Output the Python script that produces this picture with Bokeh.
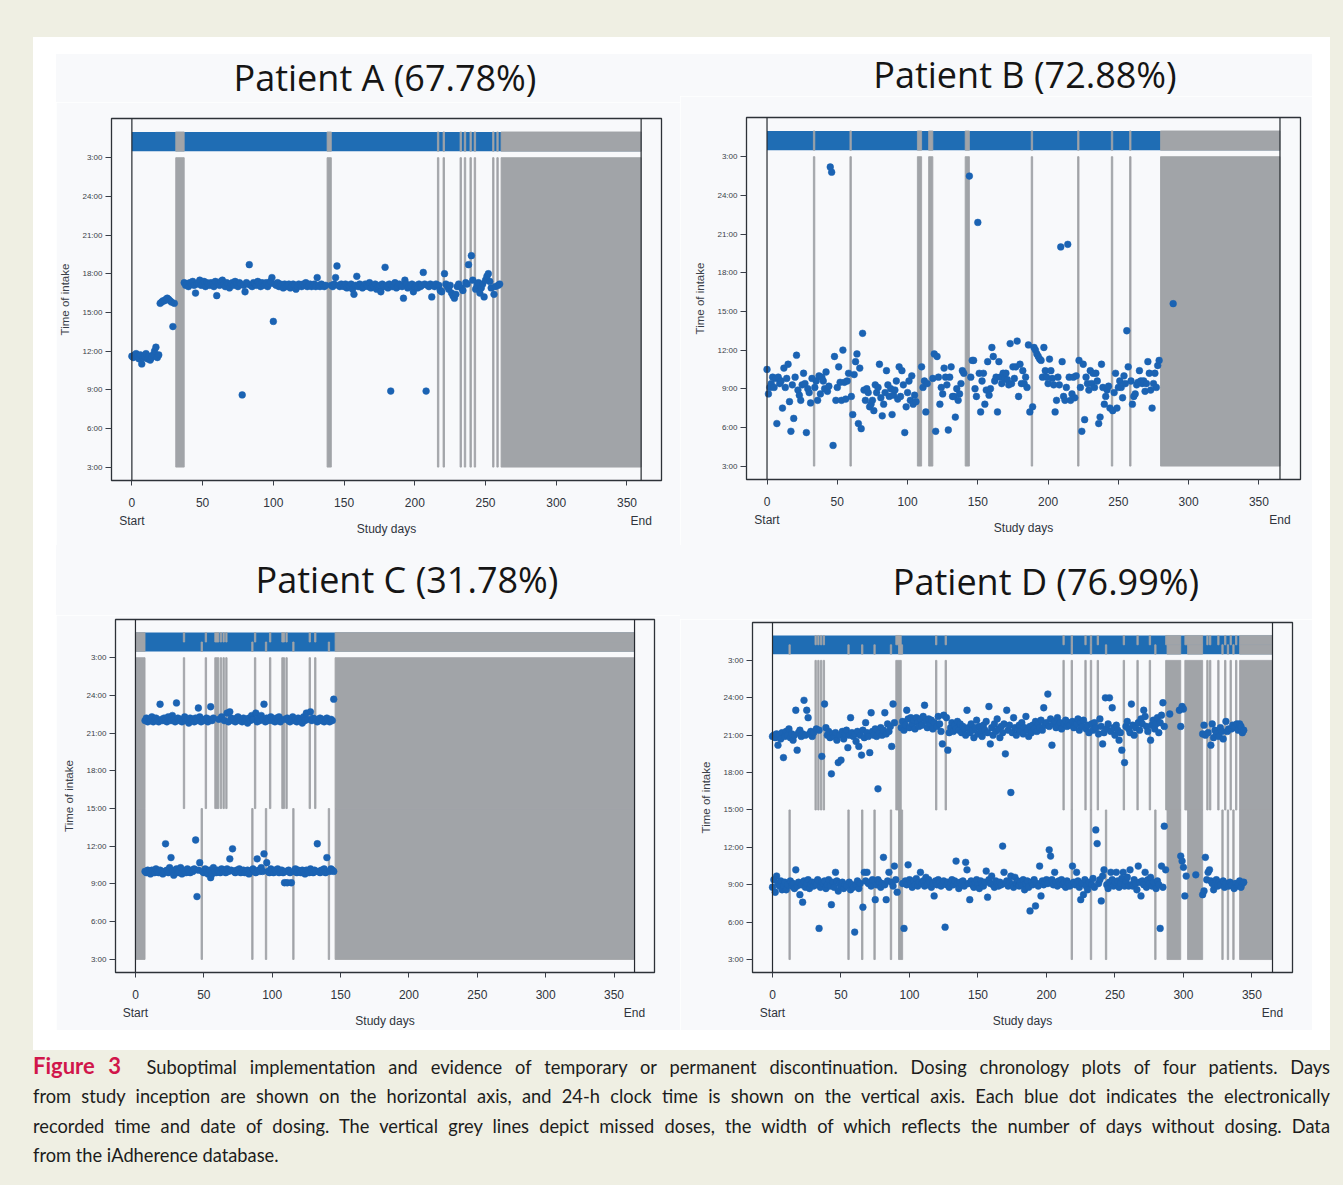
from bokeh.plotting import figure
from bokeh.models import FixedTicker, LinearAxis, Span, Range1d, Div, Spacer, ColumnDataSource
from bokeh.layouts import row, column
from bokeh.embed import file_html
from bokeh.resources import INLINE

N = None

# ---------------- data ----------------
titles = ["Patient A (67.78%)", "Patient B (72.88%)", "Patient C (31.78%)", "Patient D (76.99%)"]
end_days = [360, 365, 365, 365]
x_ticks = [0, 50, 100, 150, 200, 250, 300, 350]
y_ticks = [3, 6, 9, 12, 15, 18, 21, 24, 27]
y_tick_labels = ["3:00", "6:00", "9:00", "12:00", "15:00", "18:00", "21:00", "24:00", "3:00"]

# time of intake (hours) per study day, index = day, None = no dose
A_times = [
    11.6, 11.5, 11.7, 11.8, 11.6, 11.4, 11.7, 11.0, 11.5, 11.6,
    11.8, 11.4, 11.6, 11.3, 11.5, 11.7, 12.0, 12.3, 11.5, 11.7,
    15.7, 15.8, 15.9, 15.9, 16.0, 16.1, 16.0, 15.9, 15.8, 13.9,
    15.7, N, N, N, N, N, N, 17.3, 17.1, 17.2,
    17.0, 17.3, 17.2, 17.4, 17.1, 16.5, 17.2, 17.3, 17.5, 17.1,
    17.2, 17.4, 17.0, 17.3, 17.2, 17.1, 17.3, 17.2, 17.0, 17.4,
    16.3, 17.2, 17.1, 17.4, 17.5, 17.2, 17.0, 17.3, 17.2, 16.9,
    17.2, 17.3, 17.1, 17.4, 17.2, 17.0, 17.3, 17.2, 8.6, 17.1,
    16.6, 17.3, 17.2, 18.7, 17.1, 17.0, 17.3, 17.2, 17.1, 17.4,
    17.2, 17.0, 17.3, 17.1, 17.2, 17.3, 17.0, 17.2, 17.4, 17.7,
    14.3, 17.2, 17.1, 17.3, 17.0, 17.2, 17.1, 16.9, 17.2, 17.0,
    17.1, 17.2, 16.9, 17.0, 17.2, 17.1, 16.8, 17.0, 17.2, 17.1,
    17.0, 17.2, 17.1, 17.3, 17.0, 17.1, 17.2, 17.0, 17.1, 17.2,
    17.0, 17.7, 17.1, 17.0, 17.2, 17.1, 17.0, 17.1, N, N,
    N, 17.1, 17.0, 17.2, 17.7, 18.6, 17.1, 17.0, 17.2, 17.1,
    17.0, 17.2, 16.9, 17.1, 17.0, 17.2, 16.8, 16.4, 17.1, 17.8,
    17.0, 17.2, 17.1, 16.9, 17.0, 17.2, 17.1, 17.0, 17.3, 16.9,
    17.1, 17.0, 17.2, 16.8, 17.0, 17.1, 16.6, 17.2, 17.0, 18.5,
    17.1, 16.9, 17.2, 8.9, 17.0, 17.1, 17.3, 16.9, 17.0, 17.2,
    17.1, 17.0, 16.1, 17.5, 17.2, 16.9, 17.0, 17.1, 17.2, 16.6,
    17.0, 17.1, 16.9, 17.2, 17.0, 17.1, 18.1, 17.2, 8.9, 17.1,
    17.0, 17.2, 16.2, 17.1, 17.0, 17.2, N, 17.1, 16.7, 16.6,
    N, 18.0, 17.2, 17.0, 16.8, 17.1, 16.5, 16.3, 16.1, 16.4,
    17.0, 17.2, N, 16.9, 16.7, N, 17.3, 17.2, 18.7, N,
    19.4, 17.5, N, 16.8, 17.1, 17.3, 16.5, 16.9, 17.2, 16.2,
    17.5, 17.8, 18.0, 17.4, 16.9, N, 16.4, 17.0, N, 17.1,
    17.2,
]
A_gaps = [(31, 37), (138, 141), (216, 217), (220, 221), (232, 233), (235, 236),
          (239, 240), (242, 243), (255, 256), (258, 259), (261, 360)]

B_times = [
    10.5, 8.6, 9.1, 9.4, 9.9, 9.1, 9.8, 6.3, 9.9, 9.4,
    9.6, 7.5, 10.6, 9.1, 9.8, 10.9, 8.0, 5.7, 9.3, 6.7,
    9.9, 11.6, 8.9, 8.5, 8.1, 9.3, 10.2, 9.4, 5.6, 9.0,
    8.7, 7.9, 9.8, N, 9.1, 9.6, 8.1, 10.0, 8.6, 9.9,
    9.6, 9.0, 10.3, 8.8, 9.2, 26.2, 25.8, 4.6, 11.5, 8.1,
    9.1, 10.7, 9.5, 8.1, 12.0, 9.5, 8.2, 9.6, 10.2, N,
    8.4, 7.0, 10.1, 11.1, 11.7, 6.3, 10.6, 5.9, 13.3, 8.9,
    8.1, 9.0, 8.7, 7.6, 7.8, 8.1, 7.3, 9.3, 8.7, 9.1,
    10.9, 8.3, 6.9, 7.8, 8.7, 10.4, 9.3, 8.4, 9.0, 7.0,
    8.5, 8.9, 9.6, 8.2, 10.7, 8.4, 10.4, 9.3, 5.6, 7.6,
    8.7, 9.6, 8.1, 10.0, 7.8, 8.5, 8.0, N, N, N,
    10.7, 9.1, 9.6, 7.2, 9.4, N, N, N, 9.8, 11.7,
    5.7, 11.5, 9.9, 7.8, 9.1, 8.6, 10.6, 9.9, 9.3, 5.8,
    9.9, 10.7, 8.4, 8.4, 6.8, 9.0, 8.1, 8.6, 9.4, 10.4,
    10.2, N, N, N, 25.5, 9.9, 11.2, 11.2, 9.0, 8.4,
    21.9, 10.2, 7.2, 9.6, 10.2, 7.8, 8.9, 11.1, 8.5, 9.0,
    12.2, 11.5, 9.6, 9.9, 7.2, 11.1, 9.9, 9.4, 10.2, 9.8,
    10.2, 9.7, 9.3, 12.5, 9.4, 10.7, 9.8, 10.7, 12.7, 8.4,
    10.9, 9.4, 10.4, 9.4, 9.9, 9.1, 12.4, 7.2, N, 7.6,
    12.2, 12.0, 11.7, 11.5, 11.3, 11.2, 9.9, 12.2, 10.4, 9.9,
    9.4, 11.3, 10.4, 9.8, 9.3, 7.2, 8.1, 9.9, 9.3, 20.0,
    11.1, 8.4, 8.1, 9.1, 20.2, 9.9, 8.1, 8.6, 9.9, 8.3,
    10.0, N, 11.2, 9.1, 5.7, 10.9, 6.6, 9.9, 9.4, 8.9,
    10.4, 9.4, 10.2, 9.1, 10.2, 9.6, 6.3, 6.8, 10.9, 9.1,
    7.8, 8.4, 8.9, 9.2, 7.5, N, 7.3, 8.7, 10.2, 7.5,
    9.1, 9.6, 9.1, 8.3, 10.0, 9.4, 13.5, 10.7, N, 9.6,
    7.8, 8.4, 8.6, 9.3, 9.5, 10.4, 9.6, 9.4, 9.6, 8.8,
    9.4, 11.1, 10.2, 8.9, 7.5, 9.4, 10.2, 9.1, 10.8, 11.2,
]
B_extra_days = [289]
B_extra_times = [15.6]
B_gaps = [(33, 34), (59, 60), (107, 110), (115, 118), (141, 144), (188, 189),
          (221, 222), (245, 246), (258, 259), (280, 365)]

C_evening = [
    N, N, N, N, N, N, N, 22.0, 22.2, 21.9,
    22.1, 22.0, 22.3, 21.9, 22.1, 22.2, 22.0, 21.9, 23.3, 22.1,
    22.0, 22.2, 22.0, 21.9, 22.3, 22.1, 22.0, 22.4, 22.1, 21.9,
    23.4, 22.2, 22.0, 22.1, 21.9, N, 22.3, 22.0, 22.1, 21.8,
    22.2, 22.0, 22.1, 21.9, 22.2, 22.0, 23.0, 22.3, 21.9, 22.1,
    22.0, N, 22.2, 21.9, 22.1, 23.1, 22.0, 22.2, N, N,
    N, 22.1, N, 22.3, N, 22.0, N, 22.6, 21.9, 22.7,
    22.2, 22.0, 22.1, 21.9, 22.2, 22.3, 22.0, 22.1, 21.9, 22.2,
    22.0, 22.1, 21.8, 22.2, 22.0, 22.4, 22.1, N, 22.6, 21.9,
    22.2, 22.0, 22.4, 22.1, 23.3, 21.9, 22.2, 22.0, N, 22.3,
    22.0, 22.1, 21.9, 22.2, 22.0, 22.3, 21.9, N, N, 22.1,
    N, 22.2, 22.0, 21.9, 22.1, 22.3, 22.0, 22.1, 21.9, 22.2,
    22.0, 22.1, 21.8, 22.3, 22.0, 22.6, 22.1, N, 22.7, 22.0,
    22.2, N, 22.1, 21.9, 22.0, 22.2, 22.0, 22.1, 21.9, 22.0,
    22.2, 22.0, 21.9, 22.1, 22.0, 23.7,
]
C_morning = [
    N, N, N, N, N, N, N, 10.0, 9.9, 10.1,
    10.0, 9.8, 10.1, 10.0, 9.9, 10.2, 10.0, 9.9, 10.1, 10.0,
    9.8, 10.0, 12.2, 10.1, 9.9, 10.3, 11.1, 10.0, 9.7, 10.1,
    10.2, 9.9, 10.0, 10.3, 9.8, 10.1, 10.0, 9.9, 10.2, 10.0,
    9.9, 10.1, 10.0, 10.2, 12.5, 8.0, 10.1, 10.7, N, 10.0,
    9.9, 10.2, 10.0, 9.8, 10.1, 9.5, 9.8, 10.3, 10.0, 9.9,
    10.1, 10.0, 9.9, 10.2, 10.0, 10.1, 9.9, 10.2, 10.0, 11.0,
    10.1, 11.8, 10.0, 9.9, 10.1, 10.0, 10.2, 9.9, 10.0, 10.1,
    9.9, 10.0, 10.1, 9.8, 10.0, N, 10.2, 10.0, 9.9, 11.0,
    10.1, 10.0, 10.3, 10.0, 11.4, N, 10.7, 10.0, 9.9, 10.2,
    10.0, 9.9, 10.1, 10.0, 10.2, 9.9, 10.0, 10.1, 9.9, 9.1,
    10.0, 9.1, 10.1, 9.9, 9.1, N, 10.0, 10.2, 9.9, 10.1,
    10.0, 9.9, 10.1, 10.0, 9.8, 10.1, 10.0, 9.9, 10.2, 10.0,
    9.9, 10.1, 10.0, 12.2, 10.0, 9.9, 10.1, 10.0, 10.2, 9.9,
    11.1, N, 10.0, 10.2, 10.1, 10.0,
]
C_evening_gaps = [(0, 7), (35, 36), (51, 52), (58, 61), (62, 63), (64, 65), (66, 67),
                  (87, 88), (98, 99), (107, 109), (110, 111), (127, 128), (131, 132), (146, 365)]
C_morning_gaps = [(0, 7), (48, 49), (85, 86), (95, 96), (115, 116), (141, 142), (146, 365)]

D_evening = [
    20.9, 21.0, 20.8, 21.1, 20.2, 21.0, 20.7, 21.2, 19.2, 20.9,
    21.3, 21.0, 21.5, 20.8, 21.1, 20.6, 21.0, 23.0, 19.8, 21.2,
    21.4, 20.9, 21.1, 23.8, 21.0, 23.0, 22.4, 21.1, 21.3, 20.9,
    21.2, N, 21.5, N, 21.4, N, 19.3, N, 23.5, 21.6,
    21.0, 21.3, 20.8, 17.9, 21.1, 20.9, 21.2, 20.6, 18.8, 21.0,
    19.0, 21.3, 20.7, 21.1, 21.4, 20.0, 21.0, 22.4, 21.2, 20.9,
    21.1, 20.5, 21.3, 20.1, 21.0, 19.4, 21.4, 20.8, 22.0, 21.2,
    20.9, 19.6, 22.8, 21.3, 21.0, 21.5, 20.9, 16.7, 21.2, 21.6,
    21.0, 21.4, 22.8, 21.1, 21.9, 21.3, 21.7, 20.1, 23.5, 22.0,
    N, N, N, N, 21.6, 22.1, 21.4, 21.8, 23.0, 22.3,
    21.6, 22.4, 21.9, 22.2, 21.5, 22.4, 22.0, 21.7, 22.3, 21.8,
    22.5, 23.4, 22.1, 21.6, 22.3, 21.9, 22.2, 21.5, 22.0, N,
    21.7, 22.5, 21.9, 21.3, 20.3, 22.6, N, 22.4, 19.8, 21.2,
    21.6, 22.0, 21.3, 21.8, 21.5, 22.1, 21.4, 21.9, 21.2, 21.7,
    21.5, 21.0, 23.0, 21.6, 21.2, 21.9, 21.4, 20.8, 21.6, 22.2,
    21.1, 21.7, 21.3, 20.9, 21.8, 21.4, 22.1, 21.2, 23.3, 20.3,
    21.6, 21.0, 21.9, 21.3, 22.3, 21.5, 20.8, 21.7, 21.2, 21.9,
    19.5, 23.0, 21.4, 21.8, 16.4, 21.2, 22.4, 21.6, 21.0, 21.5,
    21.8, 21.3, 22.0, 21.1, 21.6, 22.5, 21.4, 20.9, 21.7, 21.2,
    21.8, 21.5, 22.1, 21.3, 21.9, 21.6, 22.2, 21.4, 23.2, 21.8,
    22.0, 24.3, 21.7, 22.3, 20.2, 21.9, 22.1, 21.6, 22.4, 21.8,
    22.0, 21.5, N, 21.9, 22.2, 21.7, 22.0, 21.8, N, 22.1,
    21.6, 22.0, 21.9, 22.3, 21.4, 22.0, 21.7, 22.2, N, 21.5,
    21.8, 21.2, N, 21.9, 21.4, 22.0, 21.6, N, 21.1, 22.3,
    21.7, 20.3, 21.2, 24.0, 21.5, 21.9, 24.0, 21.3, 23.2, 21.6,
    21.0, 21.8, 21.4, 20.6, 21.2, 19.8, N, 18.8, 21.7, 22.1,
    21.5, 21.2, 23.5, 21.8, 21.0, 21.6, N, 22.0, 21.4, 22.3,
    21.9, 23.0, 22.5, 21.7, 21.3, N, 20.6, 21.8, 22.2, 21.5,
    21.9, 22.4, 21.2, 22.0, 22.6, 23.6, 21.7, N, N, N,
    22.7, N, N, N, N, N, N, 23.0, 21.7, 23.3,
    23.1, N, N, N, N, N, N, N, N, N,
    N, N, N, N, 21.1, 21.8, 21.0, N, 21.2, N,
    20.2, 21.9, 20.8, 21.4, 21.1, N, 20.9, 21.6, 21.3, 20.7,
    N, 22.1, 21.3, 21.5, N, 21.5, 21.8, 21.6, N, 21.9,
    21.4, 21.9, 21.7, 21.2, 21.4,
]
D_morning = [
    8.8, 9.4, 8.4, 9.7, 9.1, 8.9, 9.3, 8.6, 8.9, 9.2,
    8.6, 9.0, N, 9.3, 8.9, 9.1, 8.7, 10.2, 8.9, 9.2,
    8.2, 9.0, 7.6, 9.3, 8.8, 9.1, 9.4, 8.7, 9.0, 9.2,
    8.9, 9.2, 9.0, 9.4, 5.5, 8.8, 9.2, 9.1, 9.3, 8.7,
    9.0, 9.4, 8.9, 7.4, 9.2, 8.8, 10.0, 9.3, 8.5, 9.1,
    8.9, 9.2, 8.7, 9.0, 8.9, N, 9.2, 8.6, 9.0, 8.8,
    5.2, 9.0, 9.3, 8.7, 9.1, N, 7.2, 10.0, 9.3, 10.0,
    9.1, 9.2, 8.9, 9.4, N, 7.8, 9.0, 9.4, 9.2, 8.8,
    9.1, 11.2, 9.0, 7.8, 9.3, 10.0, N, 9.2, 8.9, 10.5,
    9.4, 8.4, N, N, N, 9.1, 5.5, 9.3, 9.0, 10.6,
    9.4, 9.1, 8.8, 9.3, 9.0, 9.5, 8.9, 9.2, 10.0, 9.1,
    9.3, 8.9, 9.6, 9.0, 9.4, 9.2, 8.8, 9.1, 8.1, 9.3,
    9.0, 9.4, 9.2, 8.9, 9.1, 9.3, 5.6, 9.0, 9.2, 8.8,
    9.1, 9.4, 9.0, 9.3, 10.9, 9.1, 8.7, 9.2, 9.0, 9.3,
    8.9, 10.8, 10.2, 9.1, 7.8, 9.3, 9.0, 8.8, 9.2, 9.4,
    9.0, 8.7, 9.3, 9.1, 8.9, 9.2, 10.1, 8.0, 9.4, 9.1,
    9.7, 9.0, 8.8, 9.3, 9.1, 8.9, 9.2, 9.0, 12.1, 10.0,
    9.1, 9.3, 8.9, 9.2, 9.7, 9.0, 8.8, 9.6, 9.1, 9.3,
    8.9, 9.2, 9.0, 9.4, 8.6, 9.1, 9.3, 8.8, 6.9, 9.2,
    9.0, 9.4, 7.3, 9.1, 8.9, 10.5, 8.1, 9.3, 9.0, 9.2,
    9.4, 9.1, 11.8, 11.3, 9.4, 9.0, 10.0, 9.2, 8.9, 9.3,
    9.1, 9.4, 9.0, 9.2, 8.8, 9.3, 9.1, 8.9, N, 10.5,
    9.2, 9.0, 10.0, 9.3, 8.8, 7.8, 9.1, 8.2, 9.4, 8.9,
    8.6, 9.2, N, 9.0, 9.5, 8.8, 13.4, 12.3, 9.1, 9.4,
    7.7, 9.7, 10.2, N, 9.0, 8.7, 9.2, 10.0, 9.4, 8.9,
    9.2, 10.0, 9.3, 8.8, 9.1, 9.5, 10.0, 8.9, 9.3, 9.6,
    8.9, 10.2, 9.0, 8.9, 9.4, 9.1, 8.6, 10.5, 9.2, 8.1,
    9.3, 9.0, 10.0, 8.8, 9.4, 9.1, 9.6, 8.9, 9.2, N,
    8.7, 9.3, 9.0, 5.5, 10.5, 8.8, 13.7, 10.2, N, N,
    N, N, N, N, N, N, N, N, 11.3, 10.9,
    10.4, 8.1, 9.7, N, N, N, N, N, N, 9.8,
    N, N, N, N, 8.2, 8.5, 11.2, 9.4, 10.0, 10.2,
    9.3, 9.1, 8.6, 9.0, 9.4, 8.9, 9.2, 9.0, N, 9.3,
    8.8, 9.1, N, 8.9, 9.2, 9.0, N, 8.7, 9.1, 8.9,
    9.0, 9.3, 8.8, 9.1, 9.2,
]
D_evening_gaps = [(31, 32), (33, 34), (35, 36), (37, 38), (90, 94), (119, 120), (126, 127),
                  (212, 213), (218, 219), (228, 229), (232, 233), (237, 238), (256, 257),
                  (266, 267), (275, 276), (287, 298), (301, 314), (317, 318), (319, 320),
                  (325, 326), (330, 331), (334, 335), (338, 339), (341, 365)]
D_morning_gaps = [(12, 13), (55, 56), (65, 66), (74, 75), (86, 87), (92, 95), (218, 219),
                  (232, 233), (243, 244), (279, 280), (288, 298), (303, 314), (328, 329),
                  (332, 333), (336, 337), (341, 365)]

# ---------------- style ----------------
BEIGE = "#efefe3"
PANEL_BG = "#ffffff"
CHART_BG = "#f8f9fb"
DOT = "#1b63b3"
BAND = "#1f6db4"
GREY = "#a1a4a8"
AXIS_FONT = "Liberation Sans"

# y extents: (bar bottom, bar top, band bottom, band top)
FULL = (3, 27, 27.5, 29.0)
EVE = (15, 27, 28.25, 29.0)
MORN = (3, 15, 27.5, 28.25)


def to_xy(times, start=0):
    xs, ys = [], []
    for i, v in enumerate(times):
        if v is not None:
            xs.append(start + i)
            ys.append(v)
    return xs, ys


def make_panel(title, end, w, h, th, tm, bl, br, bt, bb, series, gap_sets):
    head = Div(text=(f'<div style="width:400px;margin-left:{tm}px;text-align:center;'
                     f'font-family:\'Open Sans\';font-size:36px;line-height:{th}px;color:#151515;'
                     f'white-space:nowrap;">{title}</div>'),
               width=w, height=th, margin=0, styles={"background-color": CHART_BG})
    p = figure(width=w, height=h - th, output_backend="svg", toolbar_location=None,
               x_range=Range1d(-0.04 * end, 1.04 * end), y_range=Range1d(1.96, 30.04),
               min_border_left=bl, min_border_right=br, min_border_top=bt, min_border_bottom=bb,
               background_fill_color=CHART_BG, border_fill_color=CHART_BG)
    p.outline_line_color = "#2d3238"
    p.outline_line_width = 1.3
    p.xgrid.visible = False
    p.ygrid.visible = False

    # band across the top: blue, then grey where doses were missed
    p.quad(left=[0], right=[end], bottom=[FULL[2]], top=[FULL[3]], fill_color=BAND, line_color=None)
    for gaps, ext in gap_sets:
        src = ColumnDataSource(dict(left=[g[0] for g in gaps], right=[g[1] for g in gaps]))
        p.quad(left="left", right="right", bottom=ext[2], top=ext[3], source=src,
               fill_color=GREY, line_color=GREY, line_width=0.8)
        p.quad(left="left", right="right", bottom=ext[0], top=ext[1], source=src,
               fill_color=GREY, line_color=GREY, line_width=0.9)

    for s in [0, end]:
        p.add_layout(Span(location=s, dimension="height", line_color="#262a30", line_width=1.2))

    for xs, ys in series:
        p.scatter(xs, ys, size=6.8, fill_color=DOT, line_color=DOT, line_width=0.5)

    # y axis
    ya = p.yaxis[0]
    ya.ticker = FixedTicker(ticks=y_ticks)
    ya.major_label_overrides = dict(zip(y_ticks, y_tick_labels))
    ya.major_label_text_font = AXIS_FONT
    ya.major_label_text_font_size = "8px"
    ya.major_label_text_color = "#3a3f48"
    ya.major_tick_out = 6
    ya.major_tick_in = 0
    ya.major_tick_line_color = "#3a3f48"
    ya.minor_tick_line_color = None
    ya.axis_line_color = None
    ya.major_label_standoff = 3
    ya.axis_label = "Time of intake"
    ya.axis_label_text_font = AXIS_FONT
    ya.axis_label_text_font_size = "11.5px"
    ya.axis_label_text_font_style = "normal"
    ya.axis_label_text_color = "#3a3f48"
    ya.axis_label_standoff = 8

    # x axis
    xa = p.xaxis[0]
    xa.ticker = FixedTicker(ticks=x_ticks)
    xa.major_label_text_font = AXIS_FONT
    xa.major_label_text_font_size = "12px"
    xa.major_label_text_color = "#2f343c"
    xa.major_tick_out = 5
    xa.major_tick_in = 0
    xa.major_tick_line_color = "#3a3f48"
    xa.minor_tick_line_color = None
    xa.axis_line_color = None
    xa.major_label_standoff = 12

    xb = LinearAxis(ticker=FixedTicker(ticks=[0, end]),
                    major_label_overrides={0: "Start", end: "End"},
                    axis_label="Study days")
    xb.major_label_text_font = AXIS_FONT
    xb.major_label_text_font_size = "12px"
    xb.major_label_text_color = "#2f343c"
    xb.major_tick_out = 0
    xb.major_tick_in = 0
    xb.major_tick_line_color = None
    xb.minor_tick_line_color = None
    xb.axis_line_color = None
    xb.major_label_standoff = 4
    xb.axis_label_text_font = AXIS_FONT
    xb.axis_label_text_font_size = "12px"
    xb.axis_label_text_font_style = "normal"
    xb.axis_label_text_color = "#2f343c"
    xb.axis_label_standoff = -9
    p.add_layout(xb, "below")
    return column(head, p)


pA = make_panel(titles[0], end_days[0], 624, 491, 48, 129, 52, 19, 16, 65,
                [to_xy(A_times)], [(A_gaps, FULL)])
pB = make_panel(titles[1], end_days[1], 632, 491, 42, 145, 66, 12, 21, 66,
                [to_xy(B_times), (B_extra_days, B_extra_times)], [(B_gaps, FULL)])
pC = make_panel(titles[2], end_days[2], 624, 485, 70, 151, 59, 26, 4, 58,
                [to_xy(C_evening), to_xy(C_morning)],
                [(C_evening_gaps, EVE), (C_morning_gaps, MORN)])
pD = make_panel(titles[3], end_days[3], 632, 485, 74, 166, 72, 20, 3, 55,
                [to_xy(D_evening), to_xy(D_morning)],
                [(D_evening_gaps, EVE), (D_morning_gaps, MORN)])

grid = column(row(pA, pB), row(pC, pD))

panel = column(Spacer(width=1297, height=17),
               row(Spacer(width=23, height=976), grid),
               Spacer(width=1297, height=20),
               styles={"background-color": PANEL_BG})

caption_lines = [
    "Suboptimal implementation and evidence of temporary or permanent discontinuation. Dosing chronology plots of four patients. Days",
    "from study inception are shown on the horizontal axis, and 24-h clock time is shown on the vertical axis. Each blue dot indicates the electronically",
    "recorded time and date of dosing. The vertical grey lines depict missed doses, the width of which reflects the number of days without dosing. Data",
    "from the iAdherence database.",
]
line_style = "text-align:justify;text-align-last:justify;white-space:nowrap;"
html = ('<div style="font-family:Lato;font-size:18.3px;line-height:29.3px;color:#1c1c1c;width:1297px;padding-top:3px;">'
        f'<div style="{line_style}"><span style="color:#d1164b;font-weight:bold;font-size:22px;line-height:20px;">Figure 3</span>&nbsp; {caption_lines[0]}</div>'
        f'<div style="{line_style}">{caption_lines[1]}</div>'
        f'<div style="{line_style}">{caption_lines[2]}</div>'
        f'<div style="text-align:left;white-space:nowrap;">{caption_lines[3]}</div>'
        '</div>')
caption = Div(text=html, width=1297, height=122, margin=0)

root = column(Spacer(width=1343, height=37),
              row(Spacer(width=33, height=1013), panel),
              row(Spacer(width=33, height=122), caption),
              Spacer(width=1343, height=13),
              styles={"background-color": BEIGE})

open("out.html", "w").write(file_html(root, INLINE))
